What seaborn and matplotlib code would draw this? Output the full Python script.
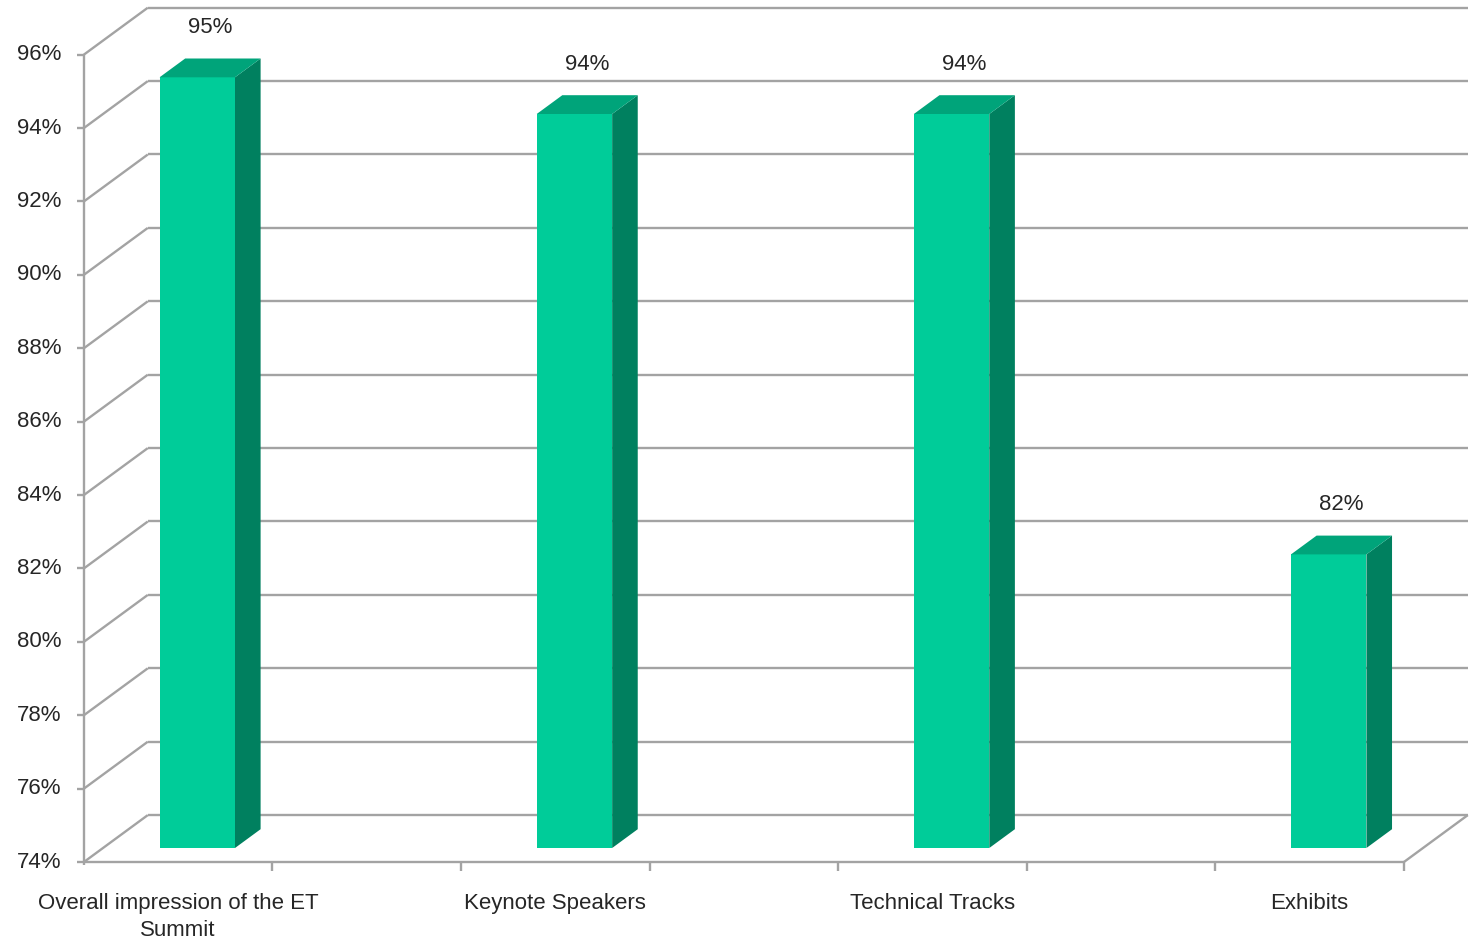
import numpy as np
import pandas as pd
import matplotlib
matplotlib.use("Agg")
import matplotlib.pyplot as plt
from matplotlib.transforms import ScaledTranslation, IdentityTransform
from matplotlib.patches import Polygon
from matplotlib.lines import Line2D
import seaborn as sns

# ---- data -------------------------------------------------------------
categories = ["Overall impression of the ET\nSummit", "Keynote Speakers",
              "Technical Tracks", "Exhibits"]
slots = [0, 2, 4, 6]            # positions on a 7-slot axis, odd slots left empty
scores = [95, 94, 94, 82]       # percent satisfied
y_ticks = list(range(74, 97, 2))
y_min, y_max = 74, 96
x_min, x_max = -0.5, 6.5

# ---- style ------------------------------------------------------------
FRONT = "#00CC99"
SIDE = "#00805F"
TOP = "#00A47A"
GRID = "#A3A3A3"
TEXT = "#262626"
FS = 16

sns.set_theme(style="white")
plt.rcParams["font.family"] = ["Liberation Sans", "DejaVu Sans"]

DPI = 100
W, H = 1469, 947
fig = plt.figure(figsize=(W / DPI, H / DPI), dpi=DPI)
fig.patch.set_facecolor("white")

# axes = plane of the bars' front faces (pixel box measured from the top-left)
px_left, px_right = 103, 1423
px_bottom = 848
px_per_unit = 36.7
px_top = px_bottom - (y_max - y_min) * px_per_unit
ax = fig.add_axes([px_left / W, 1 - px_bottom / H,
                   (px_right - px_left) / W, (px_bottom - px_top) / H])

df = pd.DataFrame({"slot": slots, "score": scores, "category": categories})
sns.barplot(data=df, x="slot", y="score", native_scale=True, width=0.2,
            color=FRONT, saturation=1, errorbar=None, linewidth=0,
            ax=ax, zorder=2)
ax.set_xlim(x_min, x_max)
ax.set_ylim(y_min, y_max)
ax.set_axis_off()

# oblique depth: one unit of depth moves (64, 47) px right/up;
# front plane = 0, bar front = 0.3, bar back = 0.7, back wall = 1
DEPTH = np.array([64.0, 47.0])
BAR_FRONT, BAR_BACK = 0.3, 0.7


def pt(x, y, depth):
    return ax.transData.transform((x, y)) + (depth - BAR_FRONT) * DEPTH


def plane(depth, dx=0.0, dy=0.0):
    off = (depth - BAR_FRONT) * DEPTH + np.array([dx, dy])
    return ax.transData + ScaledTranslation(off[0] / DPI, off[1] / DPI,
                                            fig.dpi_scale_trans)


def seg(p, q, **kw):
    ln = Line2D([p[0], q[0]], [p[1], q[1]], transform=IdentityTransform(),
                color=GRID, lw=1.7, clip_on=False, solid_capstyle="butt", **kw)
    ax.add_line(ln)


# back wall gridlines and left wall diagonals
for v in y_ticks:
    seg(pt(x_min, v, 1), pt(x_max, v, 1), zorder=0.5)
    seg(pt(x_min, v, 0), pt(x_min, v, 1), zorder=0.5)

# floor: front edge, right edge
seg(pt(x_min, y_min, 0), pt(x_max, y_min, 0), zorder=1)
seg(pt(x_max, y_min, 0), pt(x_max, y_min, 1), zorder=1)
# front value axis
seg(pt(x_min, y_min, 0) - np.array([0, 3]), pt(x_min, y_max, 0), zorder=1)

# value ticks and labels
for v in y_ticks:
    p = pt(x_min, v, 0)
    seg(p - np.array([7, 0]), p, zorder=1)
    ax.text(x_min, v, f"{v}%", transform=plane(0, dx=-22), ha="right",
            va="center", fontsize=FS, color=TEXT)

# category boundary ticks along the floor
for b in np.arange(x_min + 1, x_max + 0.01, 1.0):
    p = pt(b, y_min, 0)
    seg(p, p - np.array([0, 9]), zorder=1)

for s, name in zip(slots, categories):
    ax.text(s, y_min, name, transform=plane(0, dy=-31), ha="center",
            va="top", fontsize=FS, color=TEXT, linespacing=1.35)

# 3-D faces of each bar plus its value label
for patch, val in zip(ax.patches, scores):
    x0 = patch.get_x()
    x1 = x0 + patch.get_width()
    h = patch.get_y() + patch.get_height()
    side = [pt(x1, y_min, BAR_FRONT), pt(x1, h, BAR_FRONT),
            pt(x1, h, BAR_BACK), pt(x1, y_min, BAR_BACK)]
    top = [pt(x0, h, BAR_FRONT), pt(x1, h, BAR_FRONT),
           pt(x1, h, BAR_BACK), pt(x0, h, BAR_BACK)]
    ax.add_patch(Polygon(side, closed=True, transform=IdentityTransform(),
                         facecolor=SIDE, edgecolor="none", clip_on=False, zorder=2))
    ax.add_patch(Polygon(top, closed=True, transform=IdentityTransform(),
                         facecolor=TOP, edgecolor="none", clip_on=False, zorder=2))
    ax.text((x0 + x1) / 2, h, f"{val:.0f}%", transform=plane(0.5, dy=30),
            ha="center", va="bottom", fontsize=FS, color=TEXT)

fig.savefig("out.png", dpi=DPI, facecolor="white")
